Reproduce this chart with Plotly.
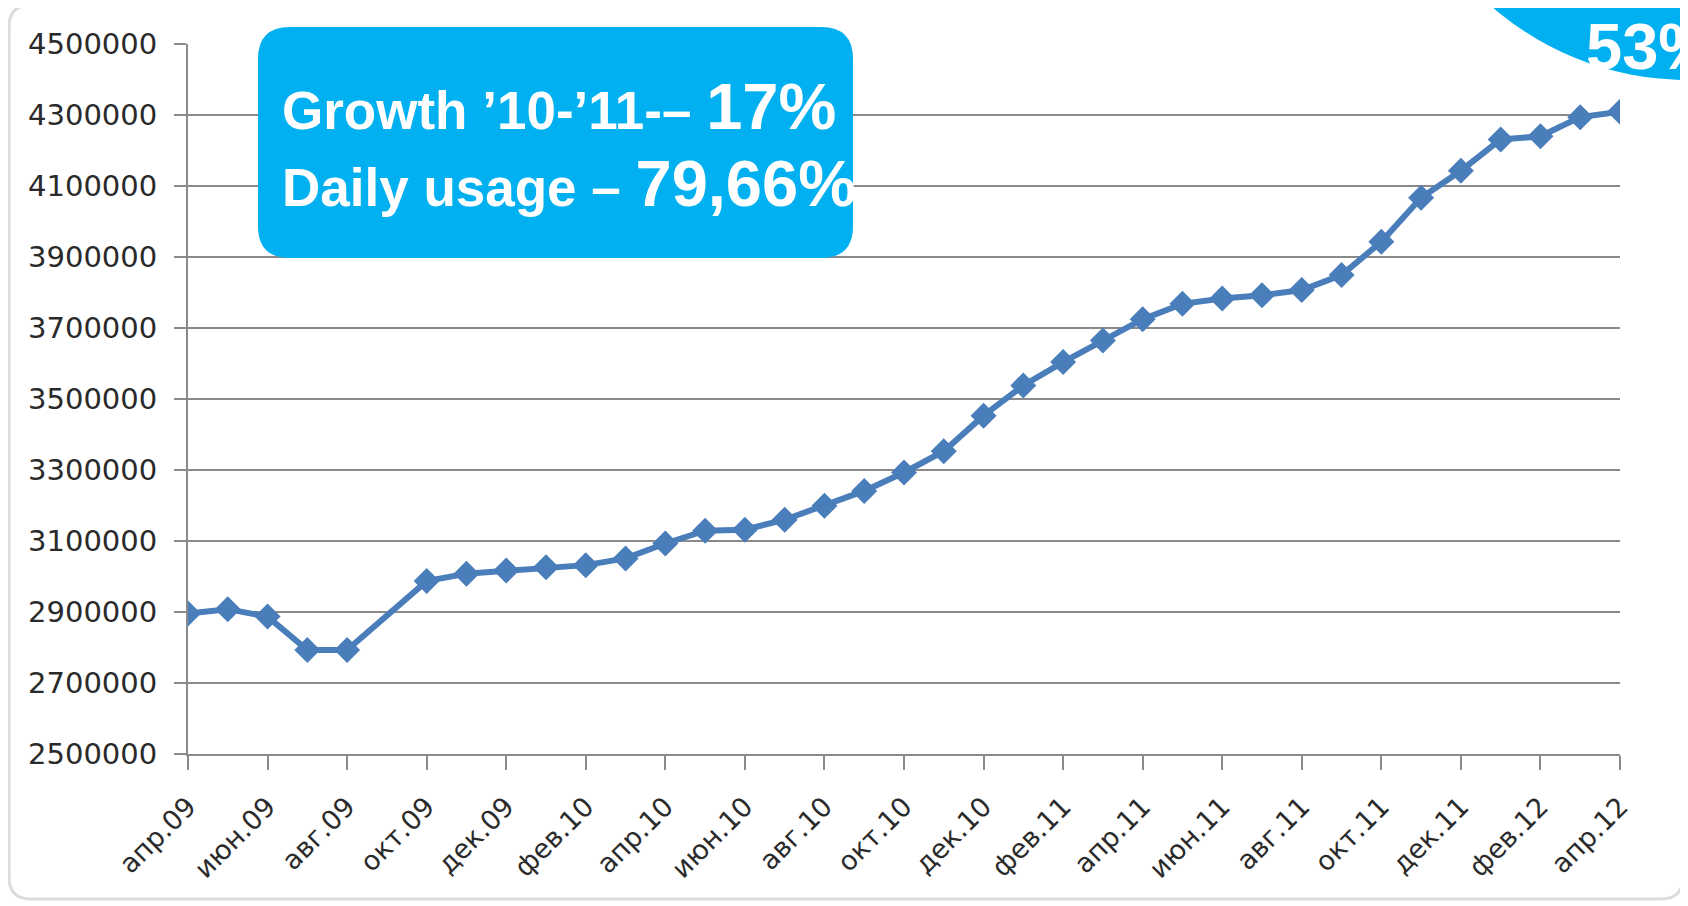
import plotly.graph_objects as go

# ---- data ----
months = ["апр.09","май.09","июн.09","июл.09","авг.09","сен.09","окт.09","ноя.09","дек.09",
          "янв.10","фев.10","мар.10","апр.10","май.10","июн.10","июл.10","авг.10","сен.10",
          "окт.10","ноя.10","дек.10","янв.11","фев.11","мар.11","апр.11","май.11","июн.11",
          "июл.11","авг.11","сен.11","окт.11","ноя.11","дек.11","янв.12","фев.12","мар.12","апр.12"]
users = [2896000, 2908000, 2887000, 2793000, 2793000, None, 2987000, 3008000, 3017000,
         3026000, 3032000, 3051000, 3093000, 3129000, 3132000, 3160000, 3199000, 3241000,
         3293000, 3353000, 3453000, 3538000, 3604000, 3665000, 3725000, 3768000, 3783000,
         3792000, 3807000, 3849000, 3943000, 4067000, 4143000, 4231000, 4240000, 4294000, 4309000]
y_ticks = [2500000, 2700000, 2900000, 3100000, 3300000, 3500000, 3700000, 3900000, 4100000, 4300000, 4500000]
box_line1 = "Growth ’10-’11-– "
box_val1 = "17%"
box_line2 = "Daily usage – "
box_val2 = "79,66%"
circle_text = "53%"

# page body has an 8px margin; work in page pixels and shift
OFF = 8
W, H = 1688 - OFF, 906 - OFF
L, R, T, B = 188 - OFF, 1620 - OFF, 44 - OFF, 754 - OFF

def px(x):
    return (x - OFF - L) / (R - L)

def py(y):
    return (B - (y - OFF)) / (B - T)

CYAN = "#00B0F0"
GRID = "#8a8a8a"

x_idx = list(range(len(months)))

fig = go.Figure()
fig.add_trace(go.Scatter(
    x=x_idx, y=users, mode="lines+markers", connectgaps=True,
    line=dict(color="#4A7EBB", width=6),
    marker=dict(symbol="diamond", size=20, color="#4A7EBB"),
    hoverinfo="skip", showlegend=False,
))

def rounded_rect(x0, y0, x1, y1, r):
    return (f"M {px(x0+r)},{py(y0)} L {px(x1-r)},{py(y0)} "
            f"Q {px(x1)},{py(y0)} {px(x1)},{py(y0+r)} "
            f"L {px(x1)},{py(y1-r)} Q {px(x1)},{py(y1)} {px(x1-r)},{py(y1)} "
            f"L {px(x0+r)},{py(y1)} Q {px(x0)},{py(y1)} {px(x0)},{py(y1-r)} "
            f"L {px(x0)},{py(y0+r)} Q {px(x0)},{py(y0)} {px(x0+r)},{py(y0)} Z")

shapes = [
    dict(type="path", xref="paper", yref="paper", layer="below",
         path=rounded_rect(9, 5, 1683, 899, 22),
         line=dict(color="#dcdcdc", width=3), fillcolor="rgba(0,0,0,0)"),
    dict(type="path", xref="paper", yref="paper", layer="above",
         path=rounded_rect(258, 27, 853, 258, 32),
         line=dict(color=CYAN, width=0), fillcolor=CYAN),
    dict(type="circle", xref="paper", yref="paper", layer="above",
         x0=px(1688 - 296), x1=px(1688 + 296), y0=py(-212 + 292), y1=py(-212 - 292),
         line=dict(color=CYAN, width=0), fillcolor=CYAN),
]

annotations = [
    dict(xref="paper", yref="paper", x=px(280), y=py(106), xanchor="left", yanchor="middle",
         showarrow=False, align="left",
         text=f"<b>{box_line1}<span style='font-size:65px'>{box_val1}</span></b>",
         font=dict(family="Liberation Sans, Arial", size=53, color="white")),
    dict(xref="paper", yref="paper", x=px(280), y=py(184), xanchor="left", yanchor="middle",
         showarrow=False, align="left",
         text=f"<b>{box_line2}<span style='font-size:65px'>{box_val2}</span></b>",
         font=dict(family="Liberation Sans, Arial", size=53, color="white")),
    dict(xref="paper", yref="paper", x=px(1584), y=py(46), xanchor="left", yanchor="middle",
         showarrow=False, align="left",
         text=f"<b>{circle_text}</b>",
         font=dict(family="Liberation Sans, Arial", size=65, color="white")),
]

fig.update_layout(
    width=W, height=H,
    margin=dict(l=L, r=W - R, t=T, b=H - B, pad=0),
    paper_bgcolor="white", plot_bgcolor="white",
    shapes=shapes, annotations=annotations,
    showlegend=False,
)
fig.update_xaxes(
    range=[0, len(months) - 1],
    tickmode="array", tickvals=x_idx[::2], ticktext=months[::2],
    tickangle=-45, ticks="outside", ticklen=14, tickwidth=2, tickcolor=GRID,
    ticklabelstandoff=10,
    showline=True, linecolor=GRID, linewidth=2, showgrid=False, zeroline=False,
    tickfont=dict(family="DejaVu Sans", size=27, color="#2a2a2a"),
)
fig.update_yaxes(
    range=[y_ticks[0], y_ticks[-1]],
    tickmode="array", tickvals=y_ticks, ticktext=[str(v) for v in y_ticks],
    ticks="outside", ticklen=12, tickwidth=2, tickcolor=GRID,
    ticklabelstandoff=11,
    showline=True, linecolor=GRID, linewidth=2,
    showgrid=True, gridcolor=GRID, gridwidth=2, zeroline=False,
    tickfont=dict(family="DejaVu Sans", size=29, color="#2a2a2a"),
)

fig.write_html("out.html")
